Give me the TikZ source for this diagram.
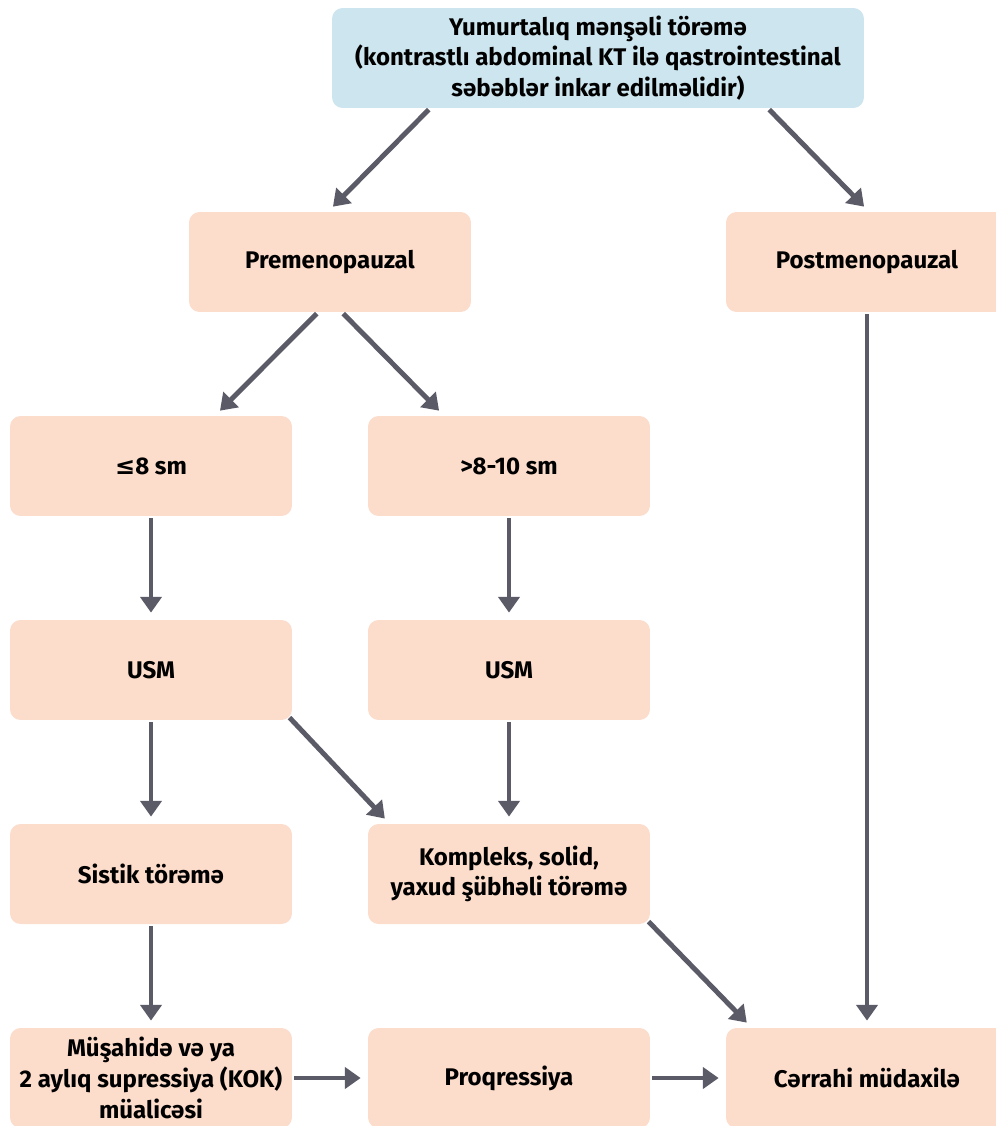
\documentclass[tikz,border=0pt]{standalone}
\usepackage{fontspec}
\setmainfont{Fira Sans}
\newfontfamily\symfont{DejaVu Sans}
\usetikzlibrary{arrows.meta,calc}
\definecolor{peach}{HTML}{FCDCCB}
\definecolor{skyblue}{HTML}{CDE5EE}
\definecolor{arrowgray}{HTML}{5B5B68}

\begin{document}
\begin{tikzpicture}[x=0.02cm,y=-0.02cm,font=\fontsize{13.7}{17.5}\selectfont\bfseries,
  box/.style={fill=peach,rounded corners=6pt,minimum width=5.64cm,minimum height=2cm,align=center,inner sep=0pt},
  arr/.style={arrowgray,line width=2.8pt,-{Triangle[width=12pt,length=9pt]},shorten <=1pt,shorten >=4pt}]
  \useasboundingbox (0,0) rectangle (996,1126);

  \node[box,fill=skyblue,minimum width=10.64cm] (top) at (598,58) {Yumurtalıq mənşəli törəmə\\(kontrastlı abdominal KT ilə qastrointestinal\\səbəblər inkar edilməlidir)};
  \node[box] (pre) at (330,262) {Premenopauzal};
  \node[box] (post) at (867,262) {Postmenopauzal};
  \node[box] (le8) at (151,466) {{\symfont ≤}8 sm};
  \node[box] (gt8) at (509,466) {>8-10 sm};
  \node[box] (usmA) at (151,670) {USM};
  \node[box] (usmB) at (509,670) {USM};
  \node[box] (sist) at (151,874) {Sistik törəmə};
  \node[box] (komp) at (509,874) {Kompleks, solid,\\yaxud şübhəli törəmə};
  \node[box] (must) at (151,1078) {Müşahidə və ya\\2 aylıq supressiya (KOK)\\müalicəsi};
  \node[box] (proq) at (509,1078) {Proqressiya};
  \node[box] (cerr) at (867,1078) {Cərrahi müdaxilə};

  % branches
  \draw[arr] ($(top.south)+(-168,0)$) -- ($(pre.north)+(-2,0)$);
  \draw[arr] ($(top.south)+(170,0)$) -- ($(post.north)+(2,0)$);
  \draw[arr] ($(pre.south)+(-12,0)$) -- ($(le8.north)+(64,0)$);
  \draw[arr] ($(pre.south)+(12,0)$) -- ($(gt8.north)+(-65,0)$);
  \draw[arr] (le8) -- (usmA);
  \draw[arr] (gt8) -- (usmB);
  \draw[arr] (usmA) -- (sist);
  \draw[arr] ($(usmA.south east)+(-4,-4)$) -- ($(komp.north west)+(22,0)$);
  \draw[arr] (usmB) -- (komp);
  \draw[arr] (sist) -- (must);
  \draw[arr] ($(komp.south east)+(-3,-4)$) -- ($(cerr.north west)+(26,0)$);
  \draw[arr] (post) -- (cerr);
  \draw[arr] (must) -- (proq);
  \draw[arr] (proq) -- (cerr);
\end{tikzpicture}
\end{document}
